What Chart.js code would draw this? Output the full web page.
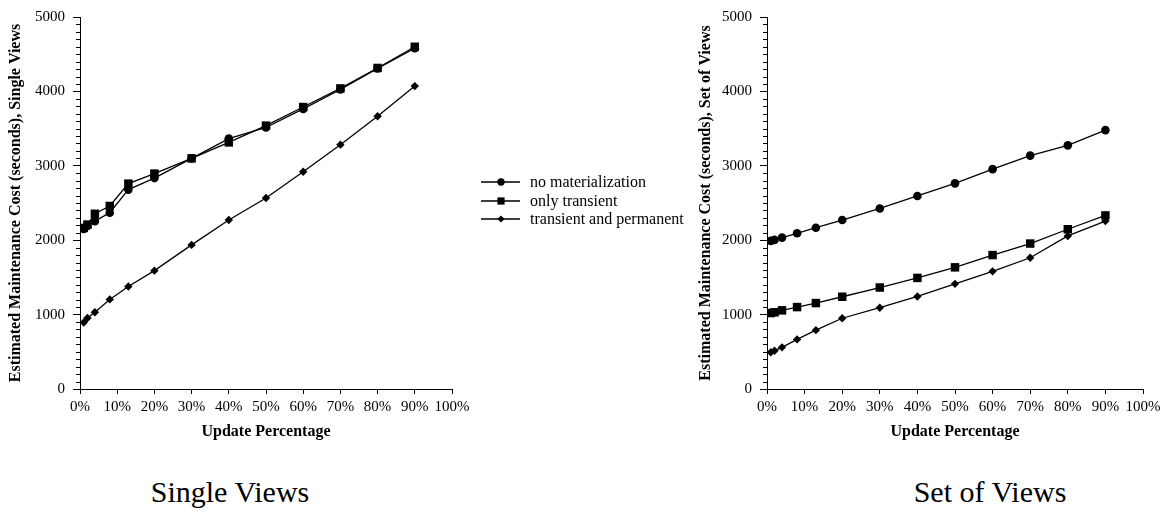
<!DOCTYPE html>
<html>
<head>
<meta charset="utf-8">
<script src="https://cdn.jsdelivr.net/npm/chart.js@4/dist/chart.umd.min.js"></script>
<style>
  html, body { margin: 0; padding: 0; background: #fff; }
  body { width: 1168px; height: 514px; position: relative; overflow: hidden; }
  .plot { position: absolute; top: 0; }
  #leftWrap { left: 0; width: 700px; height: 445px; }
  #rightWrap { left: 690px; width: 478px; height: 445px; }
  .caption {
    position: absolute; top: 477px; width: 300px; text-align: center;
    font: 30px/30px "Liberation Serif", "Times New Roman", serif; color: #000;
  }
</style>
</head>
<body>
<div class="plot" id="leftWrap"><canvas id="single"></canvas></div>
<div class="plot" id="rightWrap"><canvas id="setof"></canvas></div>
<div class="caption" style="left:80px">Single Views</div>
<div class="caption" style="left:840px">Set of Views</div>
<script>
// Update percentages at which the cost was estimated
const updatePct = [1, 2, 4, 8, 13, 20, 30, 40, 50, 60, 70, 80, 90];

// Single views: estimated maintenance cost (seconds)
const singleNoMat     = [2150, 2190, 2255, 2370, 2680, 2835, 3100, 3365, 3515, 3765, 4025, 4310, 4580];
const singleTransient = [2165, 2210, 2355, 2460, 2760, 2895, 3100, 3315, 3540, 3790, 4040, 4315, 4600];
const singleTransPerm = [893, 955, 1031, 1204, 1377, 1591, 1937, 2271, 2568, 2920, 3284, 3667, 4071];

// Set of views: estimated maintenance cost (seconds)
const setNoMat     = [1991, 2004, 2035, 2093, 2168, 2271, 2427, 2595, 2764, 2955, 3137, 3275, 3480];
const setTransient = [1021, 1031, 1057, 1101, 1155, 1240, 1364, 1493, 1635, 1800, 1955, 2147, 2333];
const setTransPerm = [493, 515, 560, 667, 791, 951, 1093, 1244, 1413, 1581, 1764, 2057, 2257];

const seriesNames = ['no materialization', 'only transient', 'transient and permanent'];
const xTickValues = [0, 10, 20, 30, 40, 50, 60, 70, 80, 90, 100];
const yTickValues = [0, 1000, 2000, 3000, 4000, 5000];

const SERIF = '"Liberation Serif", "Times New Roman", serif';
const markers = [
  { pointStyle: 'circle',  radius: 4.3 },
  { pointStyle: 'rect',    radius: 6 },
  { pointStyle: 'rectRot', radius: 4.2 }
];

function toPoints(ys) {
  return ys.map((y, i) => ({ x: updatePct[i], y }));
}

function makeDatasets(groups) {
  return groups.map((ys, i) => ({
    label: seriesNames[i],
    data: toPoints(ys),
    showLine: true,
    borderColor: '#000',
    backgroundColor: '#000',
    borderWidth: 1.3,
    pointStyle: markers[i].pointStyle,
    pointRadius: markers[i].radius,
    pointHoverRadius: markers[i].radius,
    pointBorderWidth: 0,
    tension: 0
  }));
}

// Short minor ticks every 100 on the cost axis
const minorTicks = {
  id: 'minorTicks',
  afterDraw(chart) {
    const s = chart.scales.y;
    const ctx = chart.ctx;
    ctx.save();
    ctx.strokeStyle = '#000';
    ctx.lineWidth = 1;
    ctx.beginPath();
    for (let v = 100; v < 5000; v += 100) {
      if (v % 1000 === 0) continue;
      const y = Math.round(s.getPixelForValue(v)) + 0.5;
      ctx.moveTo(s.right - 4, y);
      ctx.lineTo(s.right, y);
    }
    ctx.stroke();
    ctx.restore();
  }
};

// Legend drawn beside the single-views plot
const sideLegend = {
  id: 'sideLegend',
  afterDraw(chart) {
    const ctx = chart.ctx;
    const rows = [182, 201, 219];
    ctx.save();
    ctx.font = '16px ' + SERIF;
    ctx.textBaseline = 'middle';
    ctx.fillStyle = '#000';
    ctx.strokeStyle = '#000';
    ctx.lineWidth = 1.3;
    chart.data.datasets.forEach((ds, i) => {
      const y = rows[i];
      ctx.beginPath();
      ctx.moveTo(481, y);
      ctx.lineTo(520, y);
      ctx.stroke();
      Chart.helpers.drawPoint(ctx, {
        pointStyle: ds.pointStyle,
        radius: ds.pointRadius * 0.85,
        rotation: 0,
        borderWidth: 0
      }, 501, y);
      ctx.fillText(ds.label, 530, y + 1);
    });
    ctx.restore();
  }
};

function makeChart(id, groups, yTitle, yWidth, rightPad, extraPlugins) {
  return new Chart(document.getElementById(id), {
    type: 'scatter',
    data: { datasets: makeDatasets(groups) },
    plugins: [minorTicks].concat(extraPlugins),
    options: {
      responsive: true,
      maintainAspectRatio: false,
      animation: false,
      events: [],
      layout: { padding: { top: 14, right: rightPad, bottom: 0, left: 0 } },
      plugins: { legend: { display: false }, tooltip: { enabled: false } },
      scales: {
        x: {
          type: 'linear',
          min: 0, max: 100,
          afterBuildTicks(scale) { scale.ticks = xTickValues.map(v => ({ value: v })); },
          afterFit(scale) { scale.height = 56; },
          border: { display: true, color: '#000', width: 1 },
          grid: { drawOnChartArea: false, drawTicks: true, tickLength: 5, tickColor: '#000' },
          ticks: {
            autoSkip: false, maxRotation: 0, padding: 4, color: '#000',
            font: { family: SERIF, size: 15 },
            callback: v => v + '%'
          },
          title: {
            display: true, text: 'Update Percentage', color: '#000',
            font: { family: SERIF, size: 16, weight: 'bold' },
            padding: { top: 2, bottom: 4 }
          }
        },
        y: {
          type: 'linear',
          min: 0, max: 5000,
          afterBuildTicks(scale) { scale.ticks = yTickValues.map(v => ({ value: v })); },
          afterFit(scale) { scale.width = yWidth; },
          border: { display: true, color: '#000', width: 1 },
          grid: { drawOnChartArea: false, drawTicks: true, tickLength: 7, tickColor: '#000' },
          ticks: {
            padding: 8, color: '#000',
            font: { family: SERIF, size: 15 },
            callback: v => String(v)
          },
          title: {
            display: true, text: yTitle, color: '#000',
            font: { family: SERIF, size: 16, weight: 'bold' },
            padding: { top: 6, bottom: 2 }
          }
        }
      }
    }
  });
}

makeChart('single', [singleNoMat, singleTransient, singleTransPerm],
  'Estimated Maintenance Cost (seconds), Single Views', 80, 248, [sideLegend]);
makeChart('setof', [setNoMat, setTransient, setTransPerm],
  'Estimated Maintenance Cost (seconds), Set of Views', 77, 25, []);
</script>
</body>
</html>
